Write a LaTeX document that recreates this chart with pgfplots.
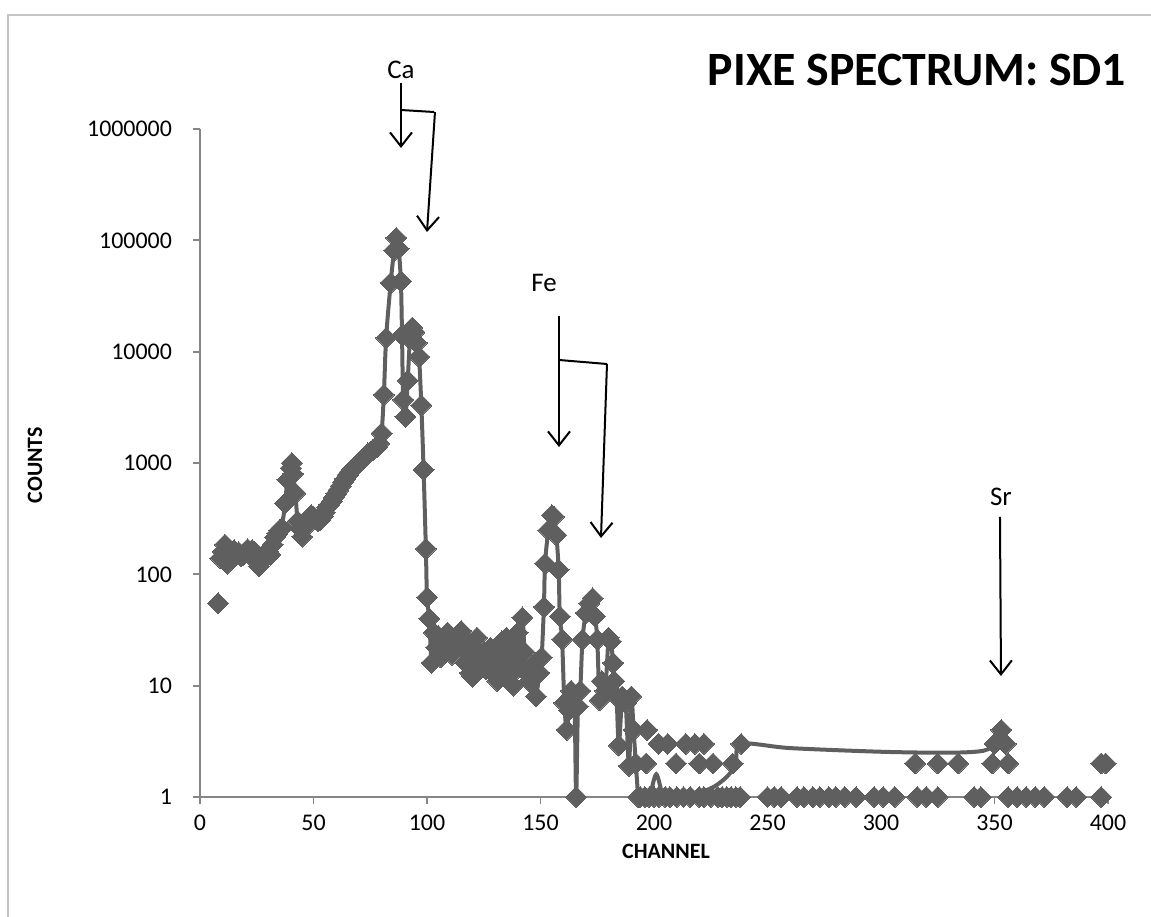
\documentclass[border=0pt]{standalone}
\usepackage{fontspec}
\setmainfont{Carlito}
\usepackage{pgfplots}
\pgfplotsset{compat=1.18}
\usetikzlibrary{arrows.meta}
\definecolor{dg}{RGB}{95,95,95}
\definecolor{axc}{RGB}{134,134,134}
\begin{document}
\begin{tikzpicture}
\path[use as bounding box] (0,0) rectangle (575.5bp,-458.5bp);
\draw[gray!45, line width=0.75bp] (4bp,-458.5bp) -- (4bp,-7.5bp) -- (575.5bp,-7.5bp);
\begin{axis}[
  at={(100bp,-398.5bp)}, anchor=south west,
  scale only axis, width=454bp, height=334bp,
  xmin=0, xmax=400, ymin=1, ymax=1000000,
  ymode=log, log basis y=10,
  axis x line=bottom, axis y line=left,
  axis line style={axc, line width=0.9bp, -},
  xtick={0,50,...,400},
  ytick={1,10,100,1000,10000,100000,1000000},
  yticklabels={1,10,100,1000,10000,100000,1000000},
  yminorticks=false, xminorticks=false,
  tick style={axc, line width=0.9bp},
  major tick length=3.5bp, tick align=outside,
  /pgf/number format/assume math mode=true,
  /pgf/number format/1000 sep={},
  ticklabel style={font=\fontsize{12}{14}\selectfont, text=black},
  yticklabel style={xshift=-7bp},
  xticklabel style={yshift=-2bp},
]
% connected spectrum (smoothed line with markers)
\addplot[dg, line width=2bp, smooth, tension=0.5, mark=square*, mark size=3.7bp,
  mark options={rotate=45, solid, fill=dg, draw=dg, line width=0pt}] coordinates {
(9,140)(10,160)(11,185)(12,125)(13,150)(14,140)(15,165)(16,150)(17,158)(18,145)(19,150)(20,160)
(21,168)(22,150)(23,165)(24,160)(25,145)(26,118)(27,135)(28,150)(29,145)(30,160)(31,150)(32,185)
(33,215)(34,233)(35,250)(36,260)(37.5,435)(38.5,705)(40,900)(40.5,1000)(41,800)(42,535)(43,300)
(44,260)(45,218)(46,260)(47,300)(48,320)(49,340)(50,330)(51,315)(52,300)(53,310)(54,330)(55,360)
(56,400)(57,425)(58,450)(59,490)(60,530)(61,570)(62,620)(63,670)(64,720)(65,780)(66,830)(67,880)
(68,920)(69,960)(70,1000)(71,1050)(72,1100)(73,1160)(74,1220)(75,1260)(76,1300)(77,1350)(78,1400)
(79,1500)(80,1850)(81,4100)(82,13300)(84,41500)(85.5,81000)(86.5,105000)(87.5,84000)(88.5,43000)
(89,14000)(89.5,3700)(90.5,2600)(91.5,5500)(92.5,13000)(93.5,16500)(94.5,15000)(95.5,12000)
(96.5,9000)(97.5,3300)(98.5,870)(99.5,170)(100,62)(101,40)(102,16)(103,30)(104,22)(105,28)(106,18)
(107,25)(108,20)(109,30)(110,22)(111,19)(112,26)(113,23)(114,28)(115,31)(116,21)(117,16)(118,25)
(119,13)(120,12)(121,22)(122,27)(123,18)(124,15)(125,20)(126,14)(127,17)(128,22)(129,13)(130,18)
(131,11)(132,20)(133,25)(134,15)(135,27)(136,12)(137,18)(138,10)(139,22)(140,30)(141,15)(142,41)
(143,20)(144,13)(145,11)(146,15)(147,12)(148,8)(149.5,13)(150.5,18)(151.5,51)(152,125)(153.5,250)
(155,340)(156,330)(157,225)(158,110)(158.5,42)(159.5,26)(160.5,7)(161.5,4)(162.5,6)(163.5,9)
(165,6.5)(165.7,1)(166.5,6.5)(167.5,9)(168.5,26)(170,45)(171.5,55)(173,61)(174,42)(175,26)
(176,7.4)(177,11)(178.5,9)(180,27)(181,25)(182,16)(182.5,11)(183.5,8)(184.5,2.9)(186,8)(187.5,7)
(189,1.9)(190,8)(191,4)(192,2)(193,1)
};
% low-count continuation of the line
\addplot[dg, line width=2bp, smooth, tension=0.5, no marks] coordinates {
(193,1)(196,1)(198,1)(201,1.6)(204,1)(206,1)(212,1)(218,1.05)(226.5,1.24)(232.5,1.55)(236,2)
(238.4,3)(260,2.75)(300,2.55)(330,2.5)(345,2.6)(351,3)
};
% isolated markers
\addplot[only marks, mark=square*, mark size=3.7bp,
  mark options={rotate=45, fill=dg, draw=dg, line width=0pt}] coordinates {
(8,55)
(194,1)(196,1)(198,1)(200,1)(202,1)(205,1)(207,1)(210,1)(213,1)(216,1)(220,1)(222,1)(225,1)(228,1)
(230,1)(232,1)(234,1)(236,1)(238,1)
(196.5,2)(209.7,2)(220,2)(226,2)(234.7,2)
(197,4)(202,3)(206,3)(214,3)(218,3)(222,3)(238.4,3)
(250,1)(253,1)(256,1)(263,1)(266,1)(270,1)(273,1)(277,1)(280,1)(284,1)(289,1)(297,1)(301,1)
(306,1)(316,1)(320,1)(325,1)(341,1)(344,1)(356,1)(360,1)(364,1)(368,1)(372,1)(382,1)(386,1)(397,1)
(315,2)(325,2)(334,2)(349,2)(356,2)(397,2)(399,2)
(350,3)(355,3)(353,4)
};
\end{axis}
\begin{scope}[x=0.5bp, y=-0.5bp]
\node[font=\fontsize{24}{28}\selectfont\bfseries] at (917,70) {PIXE SPECTRUM: SD1};
\node[font=\fontsize{11}{13}\selectfont\bfseries] at (666,851) {CHANNEL};
\node[font=\fontsize{11}{13}\selectfont\bfseries, rotate=90] at (35,465) {COUNTS};
\begin{scope}[line width=1bp, black, every node/.style={font=\fontsize{13.5}{16}\selectfont}]
\node at (401,70) {Ca};
\draw[-{Straight Barb[length=7bp,width=11bp]}] (401,83) -- (401,148);
\draw (401,110) -- (434,112);
\draw[-{Straight Barb[length=7bp,width=11bp]}] (435,112) -- (427,232);
\node at (544,283) {Fe};
\draw[-{Straight Barb[length=7bp,width=11bp]}] (559,316) -- (559,447);
\draw (559,360) -- (607,364);
\draw[-{Straight Barb[length=7bp,width=11bp]}] (607,364) -- (601,538);
\node at (1001,497) {Sr};
\draw[-{Straight Barb[length=7bp,width=11bp]}] (1000,517) -- (1001,676);
\end{scope}
\end{scope}
\end{tikzpicture}
\end{document}
